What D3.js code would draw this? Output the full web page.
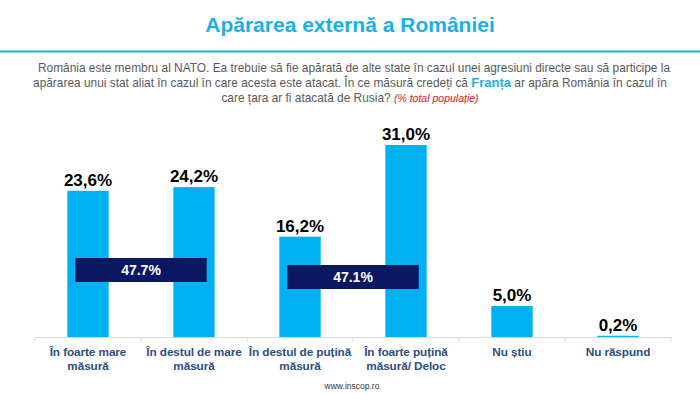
<!DOCTYPE html>
<html>
<head>
<meta charset="utf-8">
<script src="https://cdn.jsdelivr.net/npm/d3@7"></script>
<style>
  body { margin: 0; background: #fff; }
  svg { display: block; font-family: "Liberation Sans", Arial, sans-serif; }
</style>
</head>
<body>
<svg id="chart" width="700" height="394"></svg>
<script>
// chart data
var categories = [
    ["În foarte mare", "măsură"],
    ["În destul de mare", "măsură"],
    ["În destul de puțină", "măsură"],
    ["În foarte puțină", "măsură/ Deloc"],
    ["Nu știu"],
    ["Nu răspund"]
];
var values = [23.6, 24.2, 16.2, 31.0, 5.0, 0.2];
var valueLabels = ["23,6%", "24,2%", "16,2%", "31,0%", "5,0%", "0,2%"];
var groupPairs = [[0, 1], [2, 3]];
var groupLabels = ["47.7%", "47.1%"];

var svg = d3.select("#chart");

// title + rule
svg.append("text")
    .attr("x", 350).attr("y", 32)
    .attr("text-anchor", "middle")
    .attr("font-size", 21).attr("font-weight", "bold")
    .attr("fill", "#1ab0e8")
    .attr("font-family", "'Liberation Sans Narrow', 'Liberation Sans', Arial, sans-serif")
    .text("Apărarea externă a României");

svg.append("line")
    .attr("x1", 0).attr("x2", 700).attr("y1", 51.5).attr("y2", 51.5)
    .attr("stroke", "#2aaed0").attr("stroke-width", 2);

// question text
var sub = svg.append("g")
    .attr("font-size", 11.9).attr("fill", "#5a5a5a")
    .attr("text-anchor", "middle");
sub.append("text").attr("x", 354).attr("y", 72)
    .text("România este membru al NATO. Ea trebuie să fie apărată de alte state în cazul unei agresiuni directe sau să participe la");
var l2 = sub.append("text").attr("x", 350).attr("y", 87);
l2.append("tspan").text("apărarea unui stat aliat în cazul în care acesta este atacat. În ce măsură credeți că ");
l2.append("tspan").attr("fill", "#1ab0e8").attr("font-weight", "bold").attr("font-size", 13).text("Franța");
l2.append("tspan").text(" ar apăra România în cazul în");
var l3 = sub.append("text").attr("x", 350).attr("y", 102);
l3.append("tspan").text("care țara ar fi atacată de Rusia? ");
l3.append("tspan").attr("fill", "#d42020").attr("font-style", "italic").attr("font-size", 10.5).text("(% total populație)");

// plot area
var margin = { left: 35, right: 29, top: 145, bottom: 57 };
var width = 700 - margin.left - margin.right;
var baseY = 394 - margin.bottom;

var xScale = d3.scaleBand()
    .domain(d3.range(categories.length))
    .range([margin.left, margin.left + width]);
var yScale = d3.scaleLinear()
    .domain([0, 31])
    .range([baseY, margin.top]);

var barW = xScale.bandwidth() * 0.39;

svg.selectAll(".bar")
    .data(values)
    .enter().append("rect")
    .attr("class", "bar")
    .attr("x", function (d, i) { return xScale(i) + (xScale.bandwidth() - barW) / 2; })
    .attr("y", function (d) { return yScale(d); })
    .attr("width", barW)
    .attr("height", function (d) { return baseY - yScale(d); })
    .attr("fill", "#00b0f0");

svg.selectAll(".val")
    .data(values)
    .enter().append("text")
    .attr("class", "val")
    .attr("x", function (d, i) { return xScale(i) + xScale.bandwidth() / 2; })
    .attr("y", function (d) { return yScale(d) - 5; })
    .attr("text-anchor", "middle")
    .attr("font-size", 17).attr("font-weight", "bold").attr("fill", "#000")
    .text(function (d, i) { return valueLabels[i]; });

// x axis
var xAxis = d3.axisBottom(xScale)
    .tickSize(0)
    .tickFormat("");
var ax = svg.append("g")
    .attr("class", "axis axis-x")
    .attr("transform", "translate(0," + baseY + ")")
    .call(xAxis);
ax.select(".domain").attr("stroke", "#d9d9d9");

svg.selectAll(".sep")
    .data(d3.range(categories.length + 1))
    .enter().append("line")
    .attr("class", "sep")
    .attr("x1", function (i) { return margin.left + i * xScale.step(); })
    .attr("x2", function (i) { return margin.left + i * xScale.step(); })
    .attr("y1", baseY).attr("y2", baseY + 5)
    .attr("stroke", "#d9d9d9");

var cat = svg.selectAll(".cat")
    .data(categories)
    .enter().append("text")
    .attr("class", "cat")
    .attr("text-anchor", "middle")
    .attr("font-size", 11.8).attr("font-weight", "bold").attr("fill", "#2b4f80")
    .attr("letter-spacing", -0.1);
cat.each(function (lines, i) {
    var t = d3.select(this);
    lines.forEach(function (s, k) {
        t.append("tspan")
            .attr("x", xScale(i) + xScale.bandwidth() / 2)
            .attr("y", baseY + 19 + k * 14)
            .text(s);
    });
});

// grouped totals
var boxW = xScale.bandwidth() * 1.24;
var boxY = [258, 265];
groupPairs.forEach(function (p, g) {
    var cx = xScale(p[1]);
    svg.append("rect")
        .attr("x", cx - boxW / 2).attr("y", boxY[g])
        .attr("width", boxW).attr("height", 24)
        .attr("fill", "#0b1760");
    svg.append("text")
        .attr("x", cx).attr("y", boxY[g] + 17)
        .attr("text-anchor", "middle")
        .attr("font-size", 14).attr("font-weight", "bold").attr("fill", "#fff")
        .text(groupLabels[g]);
});

svg.append("text")
    .attr("x", 352).attr("y", 389)
    .attr("text-anchor", "middle")
    .attr("font-size", 8.5).attr("fill", "#333")
    .text("www.inscop.ro");
</script>
</body>
</html>
